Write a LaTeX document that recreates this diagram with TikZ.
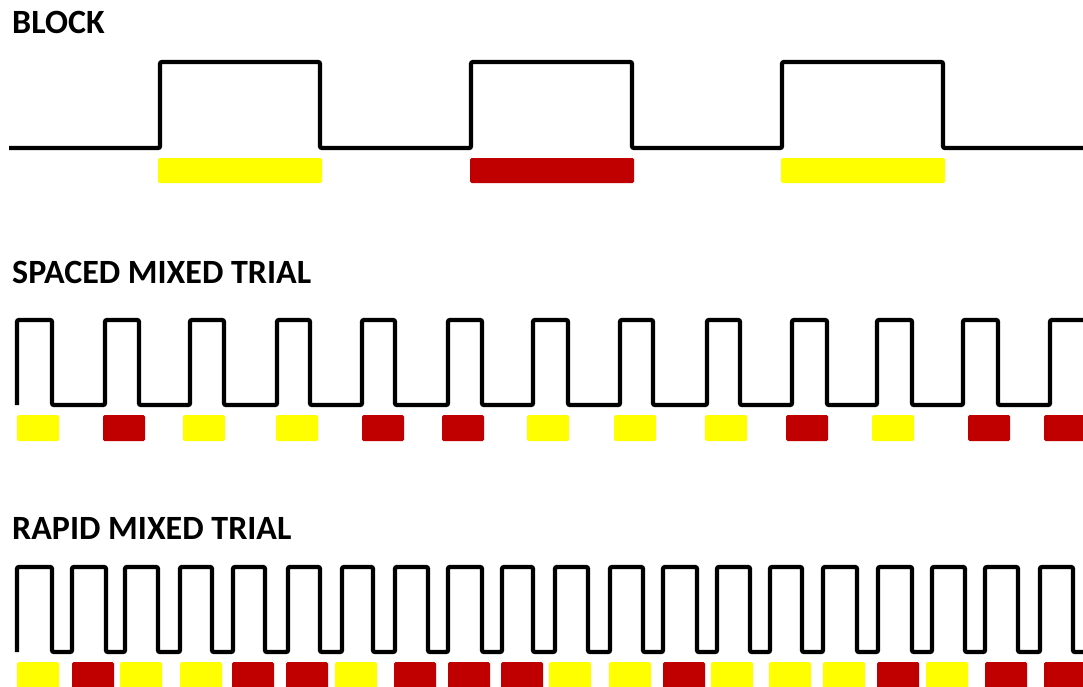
\documentclass[tikz,border=0pt]{standalone}
\usepackage{fontspec}
\setmainfont{Carlito}
\definecolor{barY}{HTML}{FFFF00}
\definecolor{barR}{HTML}{C00000}
\begin{document}
\begin{tikzpicture}[x=1pt,y=-1pt,
  wave/.style={draw=black,line width=4.3pt,rounded corners=2pt},
  ybar/.style={fill=barY,rounded corners=1.5pt},
  rbar/.style={fill=barR,rounded corners=1.5pt},
  title/.style={anchor=base west,inner sep=0pt,font=\fontsize{34}{40}\selectfont\bfseries}]
\useasboundingbox (0,0) rectangle (1083,686);
\fill[white] (0,0) rectangle (1083,686);
% titles
\node[title] (tblock) at (12,33) {BLOCK};
\node[title] (tspaced) at (12,283) {SPACED MIXED TRIAL};
\node[title] (trapid) at (12,539) {RAPID MIXED TRIAL};
% block waveform
\draw[wave] (9,148) -- (160,148) -- (160,62) -- (320,62) -- (320,148)
  -- (471,148) -- (471,62) -- (632,62) -- (632,148)
  -- (782,148) -- (782,62) -- (943,62) -- (943,148) -- (1083,148);
\fill[ybar] (158,158) rectangle (322,183);
\fill[rbar] (470,158) rectangle (634,183);
\fill[ybar] (781,158) rectangle (945,183);
% spaced waveform
\draw[wave] (17,405) -- (17,320) -- (52,320) -- (52,405)
  \foreach \r/\f in {105/139,190/224,277/310,362/395,448/482,533/568,620/653,707/740,792/827,877/912,963/998}
  { -- (\r,405) -- (\r,320) -- (\f,320) -- (\f,405) }
  -- (1050,405) -- (1050,320) -- (1083,320);
\foreach \x/\c in {17/ybar,103/rbar,183/ybar,276/ybar,362/rbar,442/rbar,527/ybar,614/ybar,705/ybar,786/rbar,872/ybar,968/rbar,1044/rbar}
  \fill[\c] (\x,415) rectangle ++(42,26);
% rapid waveform
\draw[wave] (17,652) -- (17,567) -- (52,567) -- (52,652)
  \foreach \r/\f in {72/106,125/158,180/212,233/265,288/320,342/373,395/428,448/482,502/533,555/588,610/643,663/697,717/750,770/802,823/857,878/912,932/965,985/1018,1040/1073}
  { -- (\r,652) -- (\r,567) -- (\f,567) -- (\f,652) }
  -- (1083,652);
\foreach \x/\c in {17/ybar,72/rbar,120/ybar,180/ybar,232/rbar,286/rbar,335/ybar,394/rbar,448/rbar,501/rbar,549/ybar,609/ybar,663/rbar,711/ybar,769/ybar,823/ybar,877/rbar,926/ybar,985/rbar,1044/rbar}
  \fill[\c] (\x,662) rectangle ++(42,30);
\end{tikzpicture}
\end{document}
